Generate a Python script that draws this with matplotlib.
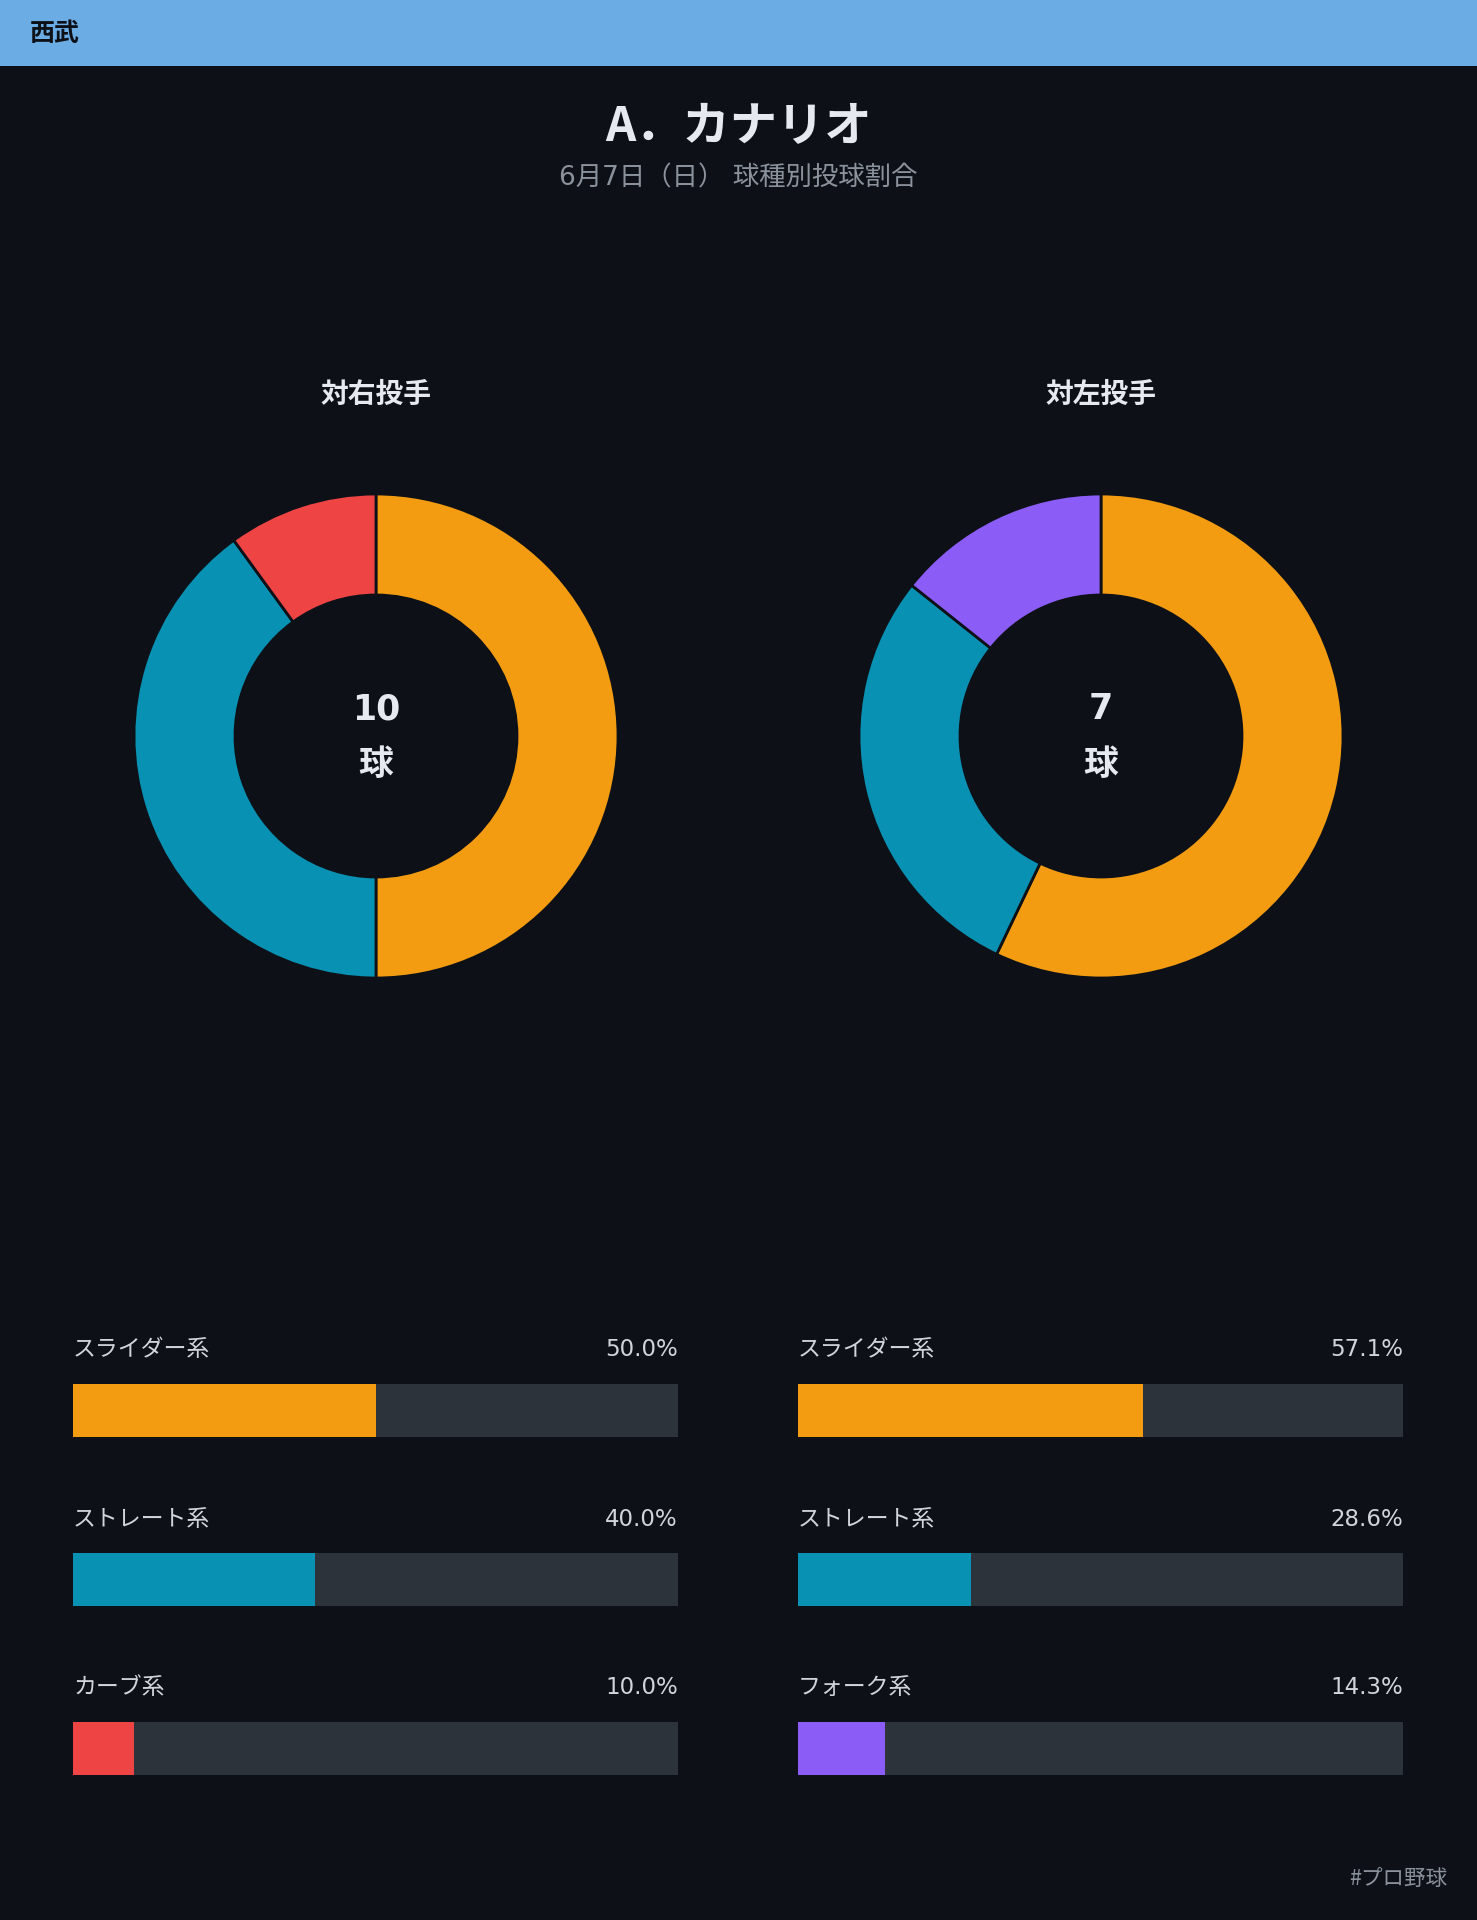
import matplotlib
matplotlib.use("Agg")
import matplotlib.pyplot as plt
from matplotlib.patches import Rectangle

plt.rcParams['font.family'] = ['DejaVu Sans', 'Noto Sans CJK JP']
CJK = ['Noto Sans CJK JP', 'DejaVu Sans']

# data
team = "西武"
player = "A．カナリオ"
subtitle = "6月7日（日） 球種別投球割合"
panel_titles = ["対右投手", "対左投手"]
pitch_counts = [10, 7]
right_types = ["スライダー系", "ストレート系", "カーブ系"]
right_pct = [50.0, 40.0, 10.0]
right_colors = ["#f39c12", "#0891b2", "#ef4444"]
left_types = ["スライダー系", "ストレート系", "フォーク系"]
left_pct = [57.1, 28.6, 14.3]
left_colors = ["#f39c12", "#0891b2", "#8b5cf6"]

BG = "#0d1117"
TRACK = "#2d333b"
W, H = 1477, 1920

fig = plt.figure(figsize=(W / 100, H / 100), dpi=100, facecolor=BG)

# header band
fig.patches.append(Rectangle((0, 1 - 66 / H), 1, 66 / H, transform=fig.transFigure,
                             facecolor="#6cace4", edgecolor="none", zorder=0))
fig.text(30 / W, 1 - 34 / H, team, fontsize=18, fontweight="bold", color=BG,
         ha="left", va="center", family=CJK)

fig.text(0.5, 1 - 127 / H, player, fontsize=34, fontweight="bold", color="#e6e9ef",
         ha="center", va="center", family=CJK)
fig.text(0.5, 1 - 178 / H, subtitle, fontsize=19, color="#8b929c",
         ha="center", va="center")


def donut(cx, title, pct, colors, total):
    r = 242
    size = 560
    ax = fig.add_axes([(cx - size / 2) / W, 1 - (736 + size / 2) / H, size / W, size / H])
    ax.set_facecolor(BG)
    ax.pie(pct, colors=colors, startangle=90, counterclock=False, radius=1,
           wedgeprops=dict(width=1 - 141 / r, edgecolor=BG, linewidth=2))
    lim = size / 2 / r
    ax.set_xlim(-lim, lim)
    ax.set_ylim(-lim, lim)
    ax.set_aspect("equal")
    ax.axis("off")
    fig.text(cx / W, 1 - 395 / H, title, fontsize=20, fontweight="bold", color="#e6e9ef",
             ha="center", va="center", family=CJK)
    fig.text(cx / W, 1 - 709 / H, str(total), fontsize=25, fontweight="bold",
             color="#e6e9ef", ha="center", va="center")
    fig.text(cx / W, 1 - 765 / H, "球", fontsize=25, fontweight="bold",
             color="#e6e9ef", ha="center", va="center", family=CJK)


def bars(x0, x1, types, pct, colors):
    row = 169
    top = 1410 - 0.6 * row
    bottom = 1748 + 0.2 * row
    ax = fig.add_axes([x0 / W, 1 - bottom / H, (x1 - x0) / W, (bottom - top) / H])
    ax.set_facecolor(BG)
    ys = list(range(len(types)))
    h = 53 / row
    ax.barh(ys, [100] * len(types), height=h, color=TRACK, edgecolor="none")
    ax.barh(ys, pct, height=h, color=colors, edgecolor="none")
    for y, name, p in zip(ys, types, pct):
        ax.text(0, y - 60 / row, name, fontsize=16.5, color="#d1d5db", ha="left",
                va="center", family=CJK)
        ax.text(100, y - 60 / row, f"{p:.1f}%", fontsize=16.5, color="#d1d5db",
                ha="right", va="center")
    ax.set_xlim(0, 100)
    ax.set_ylim(2.2, -0.6)
    ax.axis("off")


donut(376, panel_titles[0], right_pct, right_colors, pitch_counts[0])
donut(1101, panel_titles[1], left_pct, left_colors, pitch_counts[1])
bars(73, 678, right_types, right_pct, right_colors)
bars(798, 1403, left_types, left_pct, left_colors)

fig.text(1447 / W, 1 - 1880 / H, "#プロ野球", fontsize=15.5, color="#8b929c",
         ha="right", va="center", family=CJK)

fig.savefig("out.png", dpi=100, facecolor=BG)
